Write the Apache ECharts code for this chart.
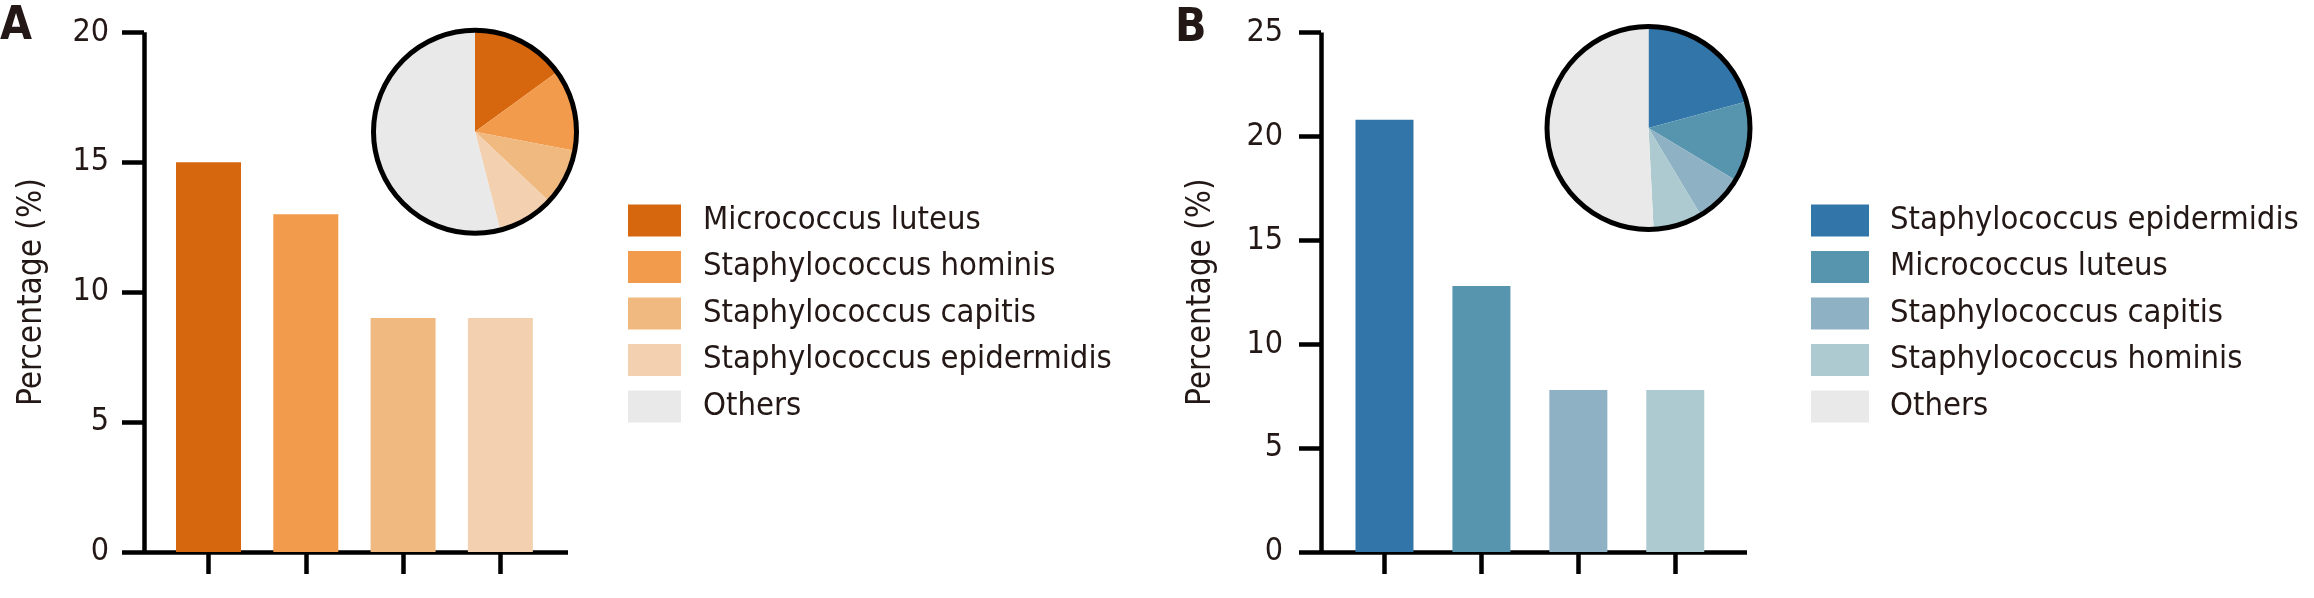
<!DOCTYPE html>
<html><head><meta charset="utf-8">
<script src="https://cdn.jsdelivr.net/npm/echarts@6/dist/echarts.min.js"></script>
<style>
html,body{margin:0;padding:0;background:#fff;width:2314px;height:598px;overflow:hidden;}
#a,#b{position:absolute;top:0;width:1157px;height:598px;}
#a{left:0}#b{left:1157px}
</style>
</head><body><div id="a"></div><div id="b"></div>
<script>
// ---- data ----
const categoriesA = ['Micrococcus luteus', 'Staphylococcus hominis', 'Staphylococcus capitis', 'Staphylococcus epidermidis'];
const valuesA = [15, 13, 9, 9];
const othersA = 54;
const categoriesB = ['Staphylococcus epidermidis', 'Micrococcus luteus', 'Staphylococcus capitis', 'Staphylococcus hominis'];
const valuesB = [20.8, 12.8, 7.8, 7.8];
const othersB = 50.8;
const othersLabel = 'Others';
const yTicksA = [0, 5, 10, 15, 20];
const yTicksB = [0, 5, 10, 15, 20, 25];
const yTitle = 'Percentage (%)';

// ---- styles ----
const colorsA = ['#D6670F', '#F29B4C', '#F0B97F', '#F3D1B0'];
const colorsB = ['#3275A9', '#5795AE', '#8FB1C4', '#ACCAD0'];
const othersColor = '#E9E9E9';
const FONT = "'DejaVu Sans Condensed', 'Liberation Sans', sans-serif";
const TXT = '#231815';
const AX = { color: '#000', width: 4.5, cap: 'butt' };

function build(dom, cfg) {
  const chart = echarts.init(dom, null, { renderer: 'canvas' });
  const ticks = cfg.yTicks;
  chart.setOption({
    animation: false,
    title: { text: cfg.letter, left: cfg.titleLeft, top: cfg.titleTop, padding: 0,
      textStyle: { fontFamily: FONT, fontWeight: 'bold', fontSize: 46, color: TXT } },
    grid: { left: cfg.grid[0], top: cfg.grid[1], right: cfg.grid[2], bottom: cfg.grid[3], containLabel: false },
    xAxis: {
      type: 'value', min: cfg.xMin, max: cfg.xMax,
      axisLine: { show: true, onZero: false, lineStyle: AX },
      axisTick: { show: true, customValues: cfg.cats.map((c, i) => i + 1), length: 22, lineStyle: AX },
      axisLabel: { show: false }, splitLine: { show: false }
    },
    yAxis: {
      type: 'value', min: ticks[0], max: ticks[ticks.length - 1], interval: ticks[1] - ticks[0],
      name: yTitle, nameLocation: 'middle', nameGap: cfg.nameGap,
      nameTextStyle: { fontFamily: FONT, fontSize: 33, color: TXT },
      axisLine: { show: true, lineStyle: AX },
      axisTick: { show: true, length: 22, lineStyle: AX },
      axisLabel: { margin: cfg.labelMargin, fontFamily: FONT, fontSize: 32, color: TXT },
      splitLine: { show: false }
    },
    legend: {
      orient: 'vertical', left: cfg.legendLeft, top: cfg.legendTop, padding: 0,
      itemWidth: cfg.legendItemW, itemHeight: 32, itemGap: 13.5, icon: 'rect', selectedMode: false,
      data: cfg.cats.concat([othersLabel]),
      textStyle: { fontFamily: FONT, fontSize: 32.5, color: TXT, lineHeight: 32, padding: [0, 0, 0, cfg.legendTextPad] }
    },
    series: [
      { type: 'bar', barWidth: cfg.barWidth, silent: true,
        data: cfg.vals.map((v, i) => ({ value: [i + 1, v], itemStyle: { color: cfg.colors[i] } })) },
      { type: 'pie', center: cfg.pieCenter, radius: cfg.pieR, startAngle: 90, clockwise: true, silent: true,
        label: { show: false }, labelLine: { show: false }, emphasis: { disabled: true },
        data: cfg.cats.map((c, i) => ({ name: c, value: cfg.vals[i], itemStyle: { color: cfg.colors[i] } }))
          .concat([{ name: othersLabel, value: cfg.others, itemStyle: { color: othersColor } }]) },
      { type: 'pie', center: cfg.pieCenter, radius: cfg.pieR, silent: true,
        label: { show: false }, labelLine: { show: false }, emphasis: { disabled: true },
        data: [{ name: 'outline', value: 1, itemStyle: { color: 'rgba(0,0,0,0)', borderColor: '#000', borderWidth: 5 } }] }
    ]
  });
}

build(document.getElementById('a'), {
  letter: 'A', titleLeft: 0, titleTop: 4,
  cats: categoriesA, vals: valuesA, others: othersA, colors: colorsA, yTicks: yTicksA,
  grid: [144, 32.2, 589, 46], xMin: 0.337, xMax: 4.695, barWidth: 65,
  nameGap: 95, labelMargin: 35,
  legendLeft: 628, legendTop: 204, legendItemW: 53, legendTextPad: 17,
  pieCenter: [475, 131.7], pieR: 101.5
});
build(document.getElementById('b'), {
  letter: 'B', titleLeft: 18, titleTop: 6,
  cats: categoriesB, vals: valuesB, others: othersB, colors: colorsB, yTicks: yTicksB,
  grid: [164, 32.5, 567, 46], xMin: 0.345, xMax: 4.74, barWidth: 58,
  nameGap: 103, labelMargin: 38,
  legendLeft: 654, legendTop: 204, legendItemW: 58, legendTextPad: 16,
  pieCenter: [491.5, 128], pieR: 101.5
});
</script>
</body></html>
